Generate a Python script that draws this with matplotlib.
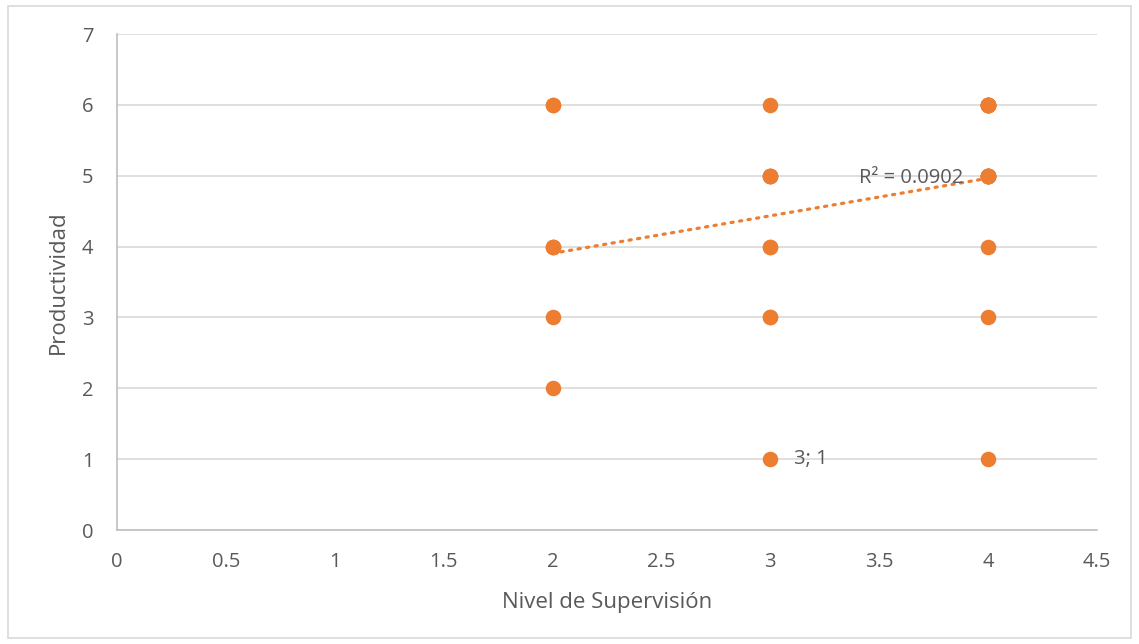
import numpy as np
import matplotlib
matplotlib.use("Agg")
import matplotlib.pyplot as plt
from matplotlib.patches import Rectangle

# Nivel de supervisión (x) y productividad (y), una fila por encuesta
supervision = [2, 2, 2, 2, 2, 2, 2,
               3, 3, 3, 3, 3, 3, 3, 3, 3, 3,
               4, 4, 4, 4, 4, 4, 4, 4, 4, 4, 4, 4, 4, 4, 4, 4, 4, 4, 4]
productividad = [6, 6, 4, 4, 4, 3, 2,
                 6, 5, 5, 5, 5, 4, 4, 3, 3, 1,
                 6, 6, 6, 6, 6, 6, 6, 6, 5, 5, 5, 5, 5, 5, 5, 5, 4, 3, 1]

x_ticks = [0, 0.5, 1, 1.5, 2, 2.5, 3, 3.5, 4, 4.5]
x_tick_labels = ["0", "0.5", "1", "1.5", "2", "2.5", "3", "3.5", "4", "4.5"]
y_ticks = [0, 1, 2, 3, 4, 5, 6, 7]

naranja = "#ED7D31"
gris_texto = "#595959"
gris_linea = "#D9D9D9"

plt.rcParams["font.family"] = ["Open Sans", "DejaVu Sans"]

fig = plt.figure(figsize=(11.39, 6.44), dpi=100)
ax = fig.add_axes([117 / 1139, 1 - 530 / 644, (1097 - 117) / 1139, (530 - 34) / 644])

x = np.array(supervision, dtype=float)
y = np.array(productividad, dtype=float)

ax.scatter(x, y, s=125, color=naranja, zorder=3, linewidths=0)

# Línea de tendencia lineal y su R²
pend, orig = np.polyfit(x, y, 1)
r2 = np.corrcoef(x, y)[0, 1] ** 2
xt = np.array([x.min(), x.max()])
ax.plot(xt, orig + pend * xt, color=naranja, lw=2.3,
        linestyle=(0, (0.7, 2.0)), dash_capstyle="round", zorder=2)
ax.text(3.885, orig + pend * 4, f"R² = {r2:.4f}", ha="right", va="center",
        fontsize=14.5, color=gris_texto, zorder=4)

# Etiqueta del punto (3; 1)
ax.annotate("3; 1", (3, 1), xytext=(17, 0), textcoords="offset points",
            ha="left", va="center", fontsize=14.5, color=gris_texto)

ax.set_xlim(0, 4.5)
ax.set_ylim(0, 7)
ax.set_xticks(x_ticks)
ax.set_xticklabels(x_tick_labels)
ax.set_yticks(y_ticks)
ax.tick_params(length=0, labelsize=14.5, labelcolor=gris_texto)
ax.tick_params(axis="x", pad=16)
ax.tick_params(axis="y", pad=17)

ax.grid(axis="y", color=gris_linea, lw=1.2)
ax.set_axisbelow(True)
for lado in ["top", "right"]:
    ax.spines[lado].set_visible(False)
for lado in ["left", "bottom"]:
    ax.spines[lado].set_color("#BFBFBF")
    ax.spines[lado].set_linewidth(1.2)

ax.set_xlabel("Nivel de Supervisión", fontsize=16, color=gris_texto, labelpad=14)
ax.set_ylabel("Productividad", fontsize=16, color=gris_texto, labelpad=9)

# Marco exterior del gráfico
fig.patches.append(Rectangle((8 / 1139, 6 / 644), 1123 / 1139, 632 / 644,
                             transform=fig.transFigure, fill=False,
                             edgecolor=gris_linea, lw=1.2))

fig.savefig("out.png", dpi=100)
